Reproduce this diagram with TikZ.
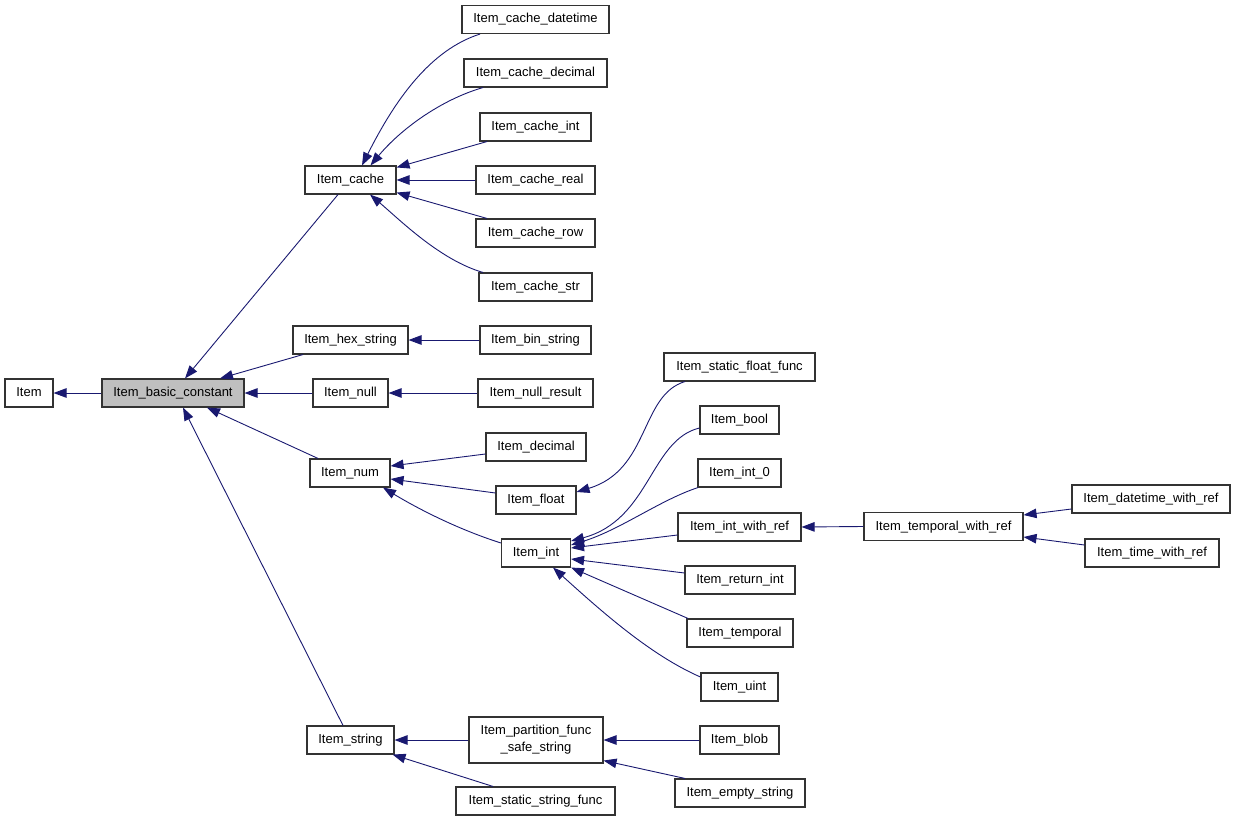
\documentclass[tikz,border=0pt]{standalone}
\usepackage{fontspec}
\setmainfont{Liberation Sans}
\usetikzlibrary{arrows.meta,calc}
\definecolor{edgeblue}{HTML}{191970}
\begin{document}
\begin{tikzpicture}[x=1pt,y=-1pt,
  box/.style={draw=black!80,line width=1.1pt,fill=white,minimum height=28pt,inner sep=1pt,
    text height=9.5pt,text depth=2.5pt,
    font=\fontsize{13}{17}\selectfont,anchor=center},
  edge/.style={draw=edgeblue,line width=0.9pt,-{Triangle[length=13pt,width=9.5pt]}}]
\useasboundingbox (0,0) rectangle (1237,821);
% nodes
\node[box,minimum width=48pt] (item) at (29,393) {Item};
\node[box,minimum width=142pt,fill=black!25] (basic) at (173,393) {Item\_basic\_constant};
\node[box,minimum width=91pt] (cache) at (350.5,180) {Item\_cache};
\node[box,minimum width=115pt] (hex) at (350.5,340) {Item\_hex\_string};
\node[box,minimum width=75pt] (null) at (350.5,393) {Item\_null};
\node[box,minimum width=80pt] (num) at (350,473) {Item\_num};
\node[box,minimum width=87pt] (string) at (350.5,740) {Item\_string};
\node[box,minimum width=147pt] (cdatetime) at (535.5,19.5) {Item\_cache\_datetime};
\node[box,minimum width=143pt] (cdecimal) at (535.5,73) {Item\_cache\_decimal};
\node[box,minimum width=111pt] (cint) at (535.5,127) {Item\_cache\_int};
\node[box,minimum width=119pt] (creal) at (535.5,180) {Item\_cache\_real};
\node[box,minimum width=119pt] (crow) at (535.5,233) {Item\_cache\_row};
\node[box,minimum width=113pt] (cstr) at (535.5,287) {Item\_cache\_str};
\node[box,minimum width=111pt] (bin) at (535.5,340) {Item\_bin\_string};
\node[box,minimum width=115pt] (nullres) at (535.5,393) {Item\_null\_result};
\node[box,minimum width=100pt] (decimal) at (536,447) {Item\_decimal};
\node[box,minimum width=80pt] (float) at (536,500) {Item\_float};
\node[box,minimum width=69pt] (int) at (536,553) {Item\_int};
\node[box,minimum width=134pt,minimum height=46pt,text height=,text depth=,align=center] (partition) at (536,740) {Item\_partition\_func\\\_safe\_string};
\node[box,minimum width=159pt] (sstrfunc) at (535.5,801) {Item\_static\_string\_func};
\node[box,minimum width=151pt] (sfloatfunc) at (739.5,367) {Item\_static\_float\_func};
\node[box,minimum width=79pt] (bool) at (739.5,420) {Item\_bool};
\node[box,minimum width=83pt] (int0) at (739.5,473) {Item\_int\_0};
\node[box,minimum width=123pt] (intwithref) at (739.5,527) {Item\_int\_with\_ref};
\node[box,minimum width=110pt] (returnint) at (740,580) {Item\_return\_int};
\node[box,minimum width=106pt] (temporal) at (740,633) {Item\_temporal};
\node[box,minimum width=77pt] (uint) at (739.5,687) {Item\_uint};
\node[box,minimum width=79pt] (blob) at (739.5,740) {Item\_blob};
\node[box,minimum width=130pt] (emptystr) at (740,793) {Item\_empty\_string};
\node[box,minimum width=159pt] (tempwithref) at (943.5,526.5) {Item\_temporal\_with\_ref};
\node[box,minimum width=158pt] (dtwithref) at (1151,499) {Item\_datetime\_with\_ref};
\node[box,minimum width=134pt] (timewithref) at (1152,553) {Item\_time\_with\_ref};
% edges (child -> parent)
\draw[edge] (basic.west) -- (item.east);
\draw[edge] ([xshift=-12.5pt]cache.south) -- ([xshift=12pt]basic.north);
\draw[edge] ([xshift=-47.5pt]hex.south) -- ([xshift=47pt]basic.north);
\draw[edge] (null.west) -- (basic.east);
\draw[edge] ([xshift=-32pt]num.north) -- ([xshift=34pt]basic.south);
\draw[edge] ([xshift=-7.5pt]string.north) -- ([xshift=10pt]basic.south);
\draw[edge] ([xshift=-55.5pt]cdatetime.south) .. controls (430,50) and (395,100) .. ([xshift=11.5pt]cache.north);
\draw[edge] ([xshift=-52.5pt]cdecimal.south) .. controls (440,100) and (400,130) .. ([xshift=20pt]cache.north);
\draw[edge] ([xshift=-48.5pt]cint.south) -- ([yshift=-2pt]cache.north east);
\draw[edge] (creal.west) -- (cache.east);
\draw[edge] ([xshift=-48.5pt]crow.north) -- ([yshift=2pt]cache.south east);
\draw[edge] ([xshift=-52.5pt]cstr.north) .. controls (440,260) and (400,220) .. ([xshift=19.5pt]cache.south);
\draw[edge] (bin.west) -- (hex.east);
\draw[edge] (nullres.west) -- (null.east);
\draw[edge] ([yshift=-7pt]decimal.west) -- ([yshift=7pt]num.east);
\draw[edge] ([yshift=7pt]float.west) -- ([yshift=-6pt]num.east);
\draw[edge] ([yshift=10pt]int.west) .. controls (460,530) and (420,510) .. ([xshift=33pt]num.south);
\draw[edge] ([xshift=-54.5pt]sfloatfunc.south) .. controls (640,395) and (650,470) .. ([yshift=8pt]float.east);
\draw[edge] ([yshift=-8pt]bool.west) .. controls (650,440) and (650,520) .. ([yshift=12pt]int.east);
\draw[edge] ([xshift=-41.5pt]int0.south) .. controls (660,500) and (620,530) .. ([yshift=8pt]int.east);
\draw[edge] ([yshift=-8pt]intwithref.west) -- ([yshift=5pt]int.east);
\draw[edge] ([yshift=7pt]returnint.west) -- ([yshift=-6pt]int.east);
\draw[edge] ([xshift=-52pt]temporal.north) -- (int.south east);
\draw[edge] ([yshift=10pt]uint.west) .. controls (650,655) and (600,610) .. ([xshift=17pt]int.south);
\draw[edge] (tempwithref.west) -- (intwithref.east);
\draw[edge] ([yshift=-10pt]dtwithref.west) -- ([yshift=11.5pt]tempwithref.east);
\draw[edge] ([yshift=8pt]timewithref.west) -- ([yshift=-10.5pt]tempwithref.east);
\draw[edge] (partition.west) -- (string.east);
\draw[edge] ([xshift=-42.5pt]sstrfunc.north) -- ([xshift=-2pt]string.south east);
\draw[edge] (blob.west) -- (partition.east);
\draw[edge] ([xshift=-55pt]emptystr.north) -- ([yshift=3pt]partition.south east);
\end{tikzpicture}
\end{document}
